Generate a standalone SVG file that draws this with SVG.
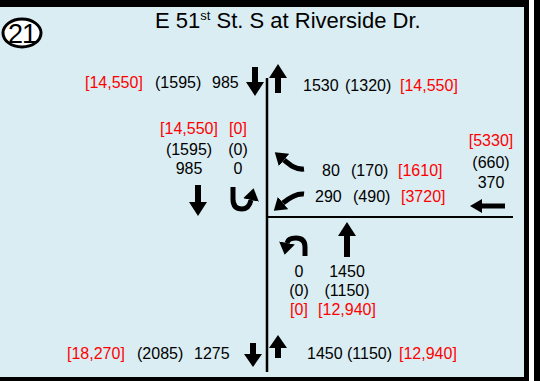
<svg xmlns="http://www.w3.org/2000/svg" width="540" height="381" viewBox="0 0 540 381">
<style>
text{font-family:"Liberation Sans",Arial,sans-serif;font-size:16px;fill:#000}
.r{fill:#ff0000}
.m{text-anchor:middle}
.arr{fill:#000}
.cv{fill:none;stroke:#000;stroke-width:5}
</style>
<defs>
<marker id="ah" markerUnits="userSpaceOnUse" markerWidth="14" markerHeight="18" viewBox="0 -9 14 18" refX="0" refY="0" orient="auto">
<path d="M0,-8 L12,0 L0,8 Z" fill="#000"/>
</marker>
</defs>
<rect x="0" y="0" width="540" height="381" fill="#ffffff"/>
<rect x="0" y="0" width="529" height="381" fill="#daedf3"/>
<rect x="0" y="0" width="529" height="7" fill="#000"/>
<rect x="524" y="0" width="5" height="381" fill="#000"/>
<rect x="0" y="377" width="529" height="4" fill="#000"/>
<rect x="534" y="0" width="6" height="381" fill="#000"/>

<g id="badge">
<ellipse cx="22" cy="33" rx="19" ry="14" fill="#fff" stroke="#000" stroke-width="3"/>
<text x="22" y="43" class="m" style="font-size:27px;letter-spacing:-1px">21</text>
</g>
<g id="title">
<text x="155" y="28" style="font-size:22px">E 51<tspan style="font-size:13px" dy="-8">st</tspan><tspan dy="8"> St. S at Riverside Dr.</tspan></text>
</g>

<g id="connectors">
<line x1="267" y1="78" x2="267" y2="372" stroke="#000" stroke-width="2.5"/>
<line x1="267" y1="217" x2="513" y2="217" stroke="#000" stroke-width="2"/>
</g>

<g id="north-leg">
<text x="85" y="88" class="r">[14,550]</text>
<text x="155" y="88">(1595)</text>
<text x="212" y="88">985</text>
<polygon class="arr" points="252,67 258,67 258,82 264,82 255,96 246,82 252,82"/>
<polygon class="arr" points="278,64 287,78 281,78 281,93 275,93 275,78 269,78"/>
<text x="303" y="91">1530</text>
<text x="345" y="91">(1320)</text>
<text x="400" y="91" class="r">[14,550]</text>
</g>

<g id="southbound">
<text x="189" y="134" class="m r">[14,550]</text>
<text x="189" y="155" class="m">(1595)</text>
<text x="189" y="174" class="m">985</text>
<text x="238" y="134" class="m r">[0]</text>
<text x="238" y="155" class="m">(0)</text>
<text x="238" y="174" class="m">0</text>
<polygon class="arr" points="195,185 201,185 201,202 207,202 198,216 189,202 195,202"/>
<path class="cv" d="M233,187 L233,199 Q233,209 242,209 Q249,209 251,200" marker-end="url(#ah)"/>
</g>

<g id="westbound">
<path class="cv" d="M304,169 C296,170 290,165 284,160" marker-end="url(#ah)"/>
<path class="cv" d="M304,194 C296,193 289,198 283,203" marker-end="url(#ah)"/>
<text x="322" y="176">80</text>
<text x="351" y="176">(170)</text>
<text x="398" y="176" class="r">[1610]</text>
<text x="315" y="202">290</text>
<text x="353" y="202">(490)</text>
<text x="401" y="202" class="r">[3720]</text>
<text x="491" y="146" class="m r">[5330]</text>
<text x="491" y="168" class="m">(660)</text>
<text x="491" y="188" class="m">370</text>
<polygon class="arr" points="470,206 482,199 482,203.5 505,203.5 505,208.5 482,208.5 482,213"/>
</g>

<g id="northbound">
<path class="cv" d="M305,256 L305,247 Q305,238 296,238 Q288,238 287,243" marker-end="url(#ah)"/>
<polygon class="arr" points="347,222 356,236 350,236 350,257 344,257 344,236 338,236"/>
<text x="299" y="277" class="m">0</text>
<text x="299" y="296" class="m">(0)</text>
<text x="299" y="315" class="m r">[0]</text>
<text x="347" y="277" class="m">1450</text>
<text x="347" y="296" class="m">(1150)</text>
<text x="347" y="315" class="m r">[12,940]</text>
</g>

<g id="south-leg">
<text x="67" y="359" class="r">[18,270]</text>
<text x="137" y="359">(2085)</text>
<text x="194" y="359">1275</text>
<polygon class="arr" points="250,343 256,343 256,354 262,354 253,367 244,354 250,354"/>
<polygon class="arr" points="278,335 287,348 281,348 281,358 275,358 275,348 269,348"/>
<text x="307" y="359">1450</text>
<text x="347" y="359">(1150)</text>
<text x="399" y="359" class="r">[12,940]</text>
</g>
</svg>
